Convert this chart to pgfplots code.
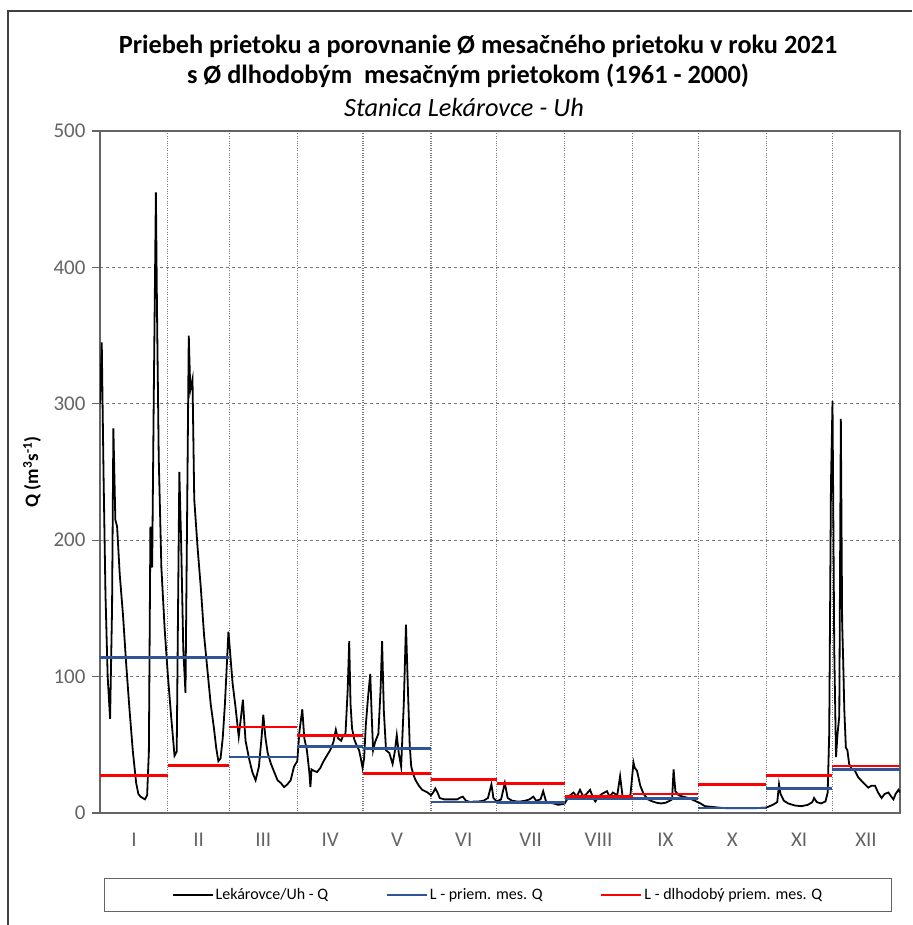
\documentclass[border=0pt]{standalone}
\usepackage{fontspec}
\setmainfont{Carlito}
\usepackage{pgfplots}
\pgfplotsset{compat=1.18}

\definecolor{qblue}{RGB}{47,85,151}
\definecolor{qred}{RGB}{255,0,0}
\definecolor{axgray}{RGB}{100,100,100}
\definecolor{gridgray}{RGB}{120,120,120}

\begin{document}
\begin{tikzpicture}[x=1pt,y=1pt]
  \useasboundingbox (-100,-112) rectangle (812,813);
  \draw[black!75, line width=1.5pt] (-92,-112) -- (-92,802) -- (812,802);

  \begin{axis}[
    at={(0,0)}, anchor=south west,
    scale only axis, width=800pt, height=682pt,
    xmin=0, xmax=365, ymin=0, ymax=500,
    axis line style={axgray, line width=1.6pt},
    xtick={15.5,45,74.5,105,135.5,166,196.5,227.5,258,288.5,319,349.5},
    xticklabels={I,II,III,IV,V,VI,VII,VIII,IX,X,XI,XII},
    minor xtick={31,59,90,120,151,181,212,243,273,304,334},
    ytick={0,100,200,300,400,500},
    xminorgrids, ymajorgrids,
    major grid style={gridgray, dashed, line width=0.9pt},
    minor grid style={gridgray, dotted, line width=1.1pt},
    x tick style={draw=none},
    minor tick length=0pt,
    ytick pos=left, tick align=outside,
    major tick length=8pt,
    y tick style={axgray, line width=1.2pt},
    /pgf/number format/assume math mode=true,
    yticklabel style={font=\fontsize{21}{23}\selectfont, text=axgray, xshift=-3pt},
    xticklabel style={font=\fontsize{21}{23}\selectfont, text=axgray, yshift=-8pt},
    ylabel={Q (m\textsuperscript{3}s\textsuperscript{-1})},
    ylabel style={at={(axis description cs:-0.085,0.5)}, anchor=center,
      font=\bfseries\fontsize{19}{21}\selectfont},
    unbounded coords=jump,
    legend columns=3,
    legend cell align=left,
    legend image code/.code={\draw[#1] (0pt,0pt) -- (40pt,0pt);},
    legend style={at={(axis description cs:0.4975,-0.0953)}, anchor=north,
      draw=axgray, line width=1.2pt, inner xsep=67pt, inner ysep=8pt,
      font=\fontsize{16}{18}\selectfont,
      /tikz/every even column/.append style={column sep=55pt}},
  ]
    % prietok Lekarovce / Uh, 2021 (den v roku, Q)
    \addplot[black, line width=1.8pt] coordinates {
      (0,300) (0.8,345) (1.6,250) (2.5,160) (3.5,100) (4.6,69) (5.5,150)
      (6.1,282) (7,215) (7.8,210) (9,175) (10.5,145) (12,108) (13.5,75)
      (15,45) (16.5,22) (17.5,14) (18.5,12) (19.5,11) (20.5,10) (21.5,13)
      (22.3,45) (23,210) (23.8,180) (24.5,300) (25.5,455) (26,370) (26.8,260)
      (28,180) (29.5,135) (31,100) (32.5,70) (34,42) (35,45) (36.2,250)
      (37,200) (38,120) (39,88) (40.5,350) (41.2,310) (42.2,318) (43,230)
      (44.5,195) (46,165) (47.5,130) (49,105) (50.5,80) (52,62) (53,48)
      (54,38) (55,40) (56,55) (57,80) (58.6,133) (59.5,115)
      (60.5,95) (61.8,78) (63.3,56) (64.3,70) (65.2,83) (66.4,53) (68,40)
      (69.5,30) (71,24) (72.5,34) (73.7,55) (74.5,72) (75.5,55) (76.5,44)
      (78,36) (79.5,30) (81,24) (82.5,22) (84,19) (85.5,21) (87,24)
      (88.5,34) (90,38)
      (91,60) (92.3,76) (93.2,55) (94.4,46) (95.5,30) (96,19) (96.5,32)
      (97.5,31) (99,30) (100.5,33) (102,38) (103.5,42) (105,46) (106.5,52)
      (107.6,61) (108.5,55) (110,53) (111,57) (112,58) (113,90) (113.7,126)
      (114.3,80) (115,62) (116,54) (117,50) (118.2,46) (119,40) (119.8,33)
      (120.5,40) (121.3,65) (122.3,85) (123.3,102) (124,70) (124.6,46)
      (125.5,52) (127,58) (128,90) (128.7,126) (129.5,75) (130.5,46)
      (132,44) (133.5,36) (134.5,45) (135.4,57) (136.3,44) (137.4,34)
      (138.6,80) (139.6,138) (140.5,90) (141.3,50) (142,34) (143,28)
      (144,24) (145.5,20) (147,17) (149.5,15) (151,13)
      (152,15) (153,18) (154,15) (155,11) (157,10) (159,10) (161,10)
      (163,10) (164,11) (165.5,12) (167,9) (169,8) (171,8.5) (173,8.5)
      (175,9) (177,11) (178.6,21) (179.5,11) (181,8.5)
      (183,10) (184.7,22) (186,11) (188,9) (190,8.5) (192,8.5) (194,9)
      (196,10) (197.7,12) (199,9) (201,10) (202.2,16) (203.5,8.5)
      (205,7.5) (207,7) (209,6) (211,6.5) (212,7)
      (213.5,11) (214.5,13) (216,15) (217.5,12) (219,17) (220.5,12)
      (222,14) (223.6,17) (225,11) (226,8.5) (227.5,12) (229,14)
      (231.3,16) (232.5,12) (234,15) (236,13) (237.3,27) (238.5,11)
      (240,12) (242,13)
      (243.4,37) (244,33) (245,31) (246.5,20) (248,14) (250,10) (252,8.5)
      (254,7.5) (256,7) (258,7.5) (260,9) (261,10) (261.7,32) (262.5,16)
      (264,13) (266,12) (268.5,11) (270,10) (272,8.5)
      (274,7) (276,5) (279,4.5) (282,4) (285,3.6) (290,3.5) (295,3.5)
      (300,3.6) (304,4)
      (305.5,5) (307,6) (309,8) (309.8,21) (310.5,14) (312,9) (314,7)
      (317,5.5) (320,5) (323,6) (325,8) (325.8,11) (327,8) (329,7)
      (331,8.5) (332,15) (332.7,58) (333.5,241) (334.2,302) (335,120)
      (335.8,41) (336.5,58) (337.3,71) (338,289) (338.6,140) (339.1,110)
      (339.6,75) (340.3,48) (341,46) (341.8,36) (343,32) (344.4,31)
      (346,26) (347.5,23.5) (349,21) (350.5,18.6) (352,20) (353.6,20)
      (355,15) (356.6,11) (358,14) (359.7,15) (361,12) (362,10) (363,14)
      (364.3,17) (365,15)
    };
    \addlegendentry{Lekárovce/Uh - Q}

    % priemerny mesacny prietok 2021
    \addplot[qblue, line width=2.8pt] coordinates {
      (0,114) (59,114) (59,nan)
      (59,41) (90,41) (90,nan)
      (90,48.5) (120,48.5) (120,nan)
      (120,47) (151,47) (151,nan)
      (151,8) (181,8) (181,nan)
      (181,7.5) (212,7.5) (212,nan)
      (212,10.5) (243,10.5) (243,nan)
      (243,10.5) (273,10.5) (273,nan)
      (273,3.6) (304,3.6) (304,nan)
      (304,18) (334,18) (334,nan)
      (334,32) (365,32)
    };
    \addlegendentry{L - priem. mes. Q}

    % dlhodoby priemerny mesacny prietok 1961-2000
    \addplot[qred, line width=2.8pt] coordinates {
      (0,27.5) (31,27.5) (31,nan)
      (31,35) (59,35) (59,nan)
      (59,63) (90,63) (90,nan)
      (90,57) (120,57) (120,nan)
      (120,29) (151,29) (151,nan)
      (151,24.5) (181,24.5) (181,nan)
      (181,21.5) (212,21.5) (212,nan)
      (212,12) (243,12) (243,nan)
      (243,14) (273,14) (273,nan)
      (273,21) (304,21) (304,nan)
      (304,27.5) (334,27.5) (334,nan)
      (334,34.5) (365,34.5)
    };
    \addlegendentry{L - dlhodobý priem. mes. Q}
  \end{axis}

  \node[font=\bfseries\fontsize{26.3}{29}\selectfont] at (378,767)
    {Priebeh prietoku a porovnanie Ø mesačného prietoku v roku 2021};
  \node[font=\bfseries\fontsize{26.3}{29}\selectfont] at (368,737)
    {s Ø dlhodobým\ \ mesačným prietokom (1961 - 2000)};
  \node[font=\itshape\fontsize{26.3}{29}\selectfont] at (364,706)
    {Stanica Lekárovce - Uh};
\end{tikzpicture}
\end{document}
